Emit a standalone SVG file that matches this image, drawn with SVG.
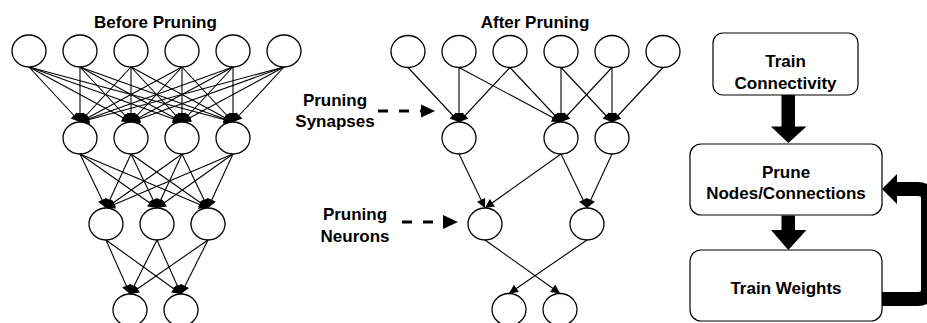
<svg xmlns="http://www.w3.org/2000/svg" width="927" height="323" viewBox="0 0 927 323">
  <style>
    .node { fill: #ffffff; stroke: #000000; stroke-width: 1.3; }
    .edge { stroke: #000000; stroke-width: 1.1; fill: none; marker-end: url(#ah); }
    .lbl { font-family: "Liberation Sans", Arial, sans-serif; font-weight: bold; font-size: 17px; fill: #000000; text-anchor: middle; }
    .box { fill: #ffffff; stroke: #000000; stroke-width: 1.2; }
    .dash { stroke: #000000; stroke-width: 3; stroke-dasharray: 10 11; fill: none; }
  </style>
  <defs>
    <marker id="ah" viewBox="0 0 10 10" refX="10" refY="5" markerWidth="11" markerHeight="9" markerUnits="userSpaceOnUse" orient="auto">
      <path d="M0,0 L10,5 L0,10 z" fill="#000000"/>
    </marker>
    <ellipse id="n" cx="0" cy="0" rx="17" ry="16" class="node"/>
  </defs>

  <rect width="927" height="323" fill="#ffffff"/>

  <!-- Titles -->
  <text class="lbl" x="155.5" y="28">Before Pruning</text>
  <text class="lbl" x="535" y="28">After Pruning</text>

  <!-- Connectors: dense network (before pruning) -->
  <g id="connectors-before">
    <line class="edge" x1="29" y1="67" x2="80" y2="122"/>
    <line class="edge" x1="29" y1="67" x2="131" y2="122"/>
    <line class="edge" x1="29" y1="67" x2="182" y2="122"/>
    <line class="edge" x1="29" y1="67" x2="233" y2="122"/>
    <line class="edge" x1="80" y1="67" x2="80" y2="122"/>
    <line class="edge" x1="80" y1="67" x2="131" y2="122"/>
    <line class="edge" x1="80" y1="67" x2="182" y2="122"/>
    <line class="edge" x1="80" y1="67" x2="233" y2="122"/>
    <line class="edge" x1="131" y1="67" x2="80" y2="122"/>
    <line class="edge" x1="131" y1="67" x2="131" y2="122"/>
    <line class="edge" x1="131" y1="67" x2="182" y2="122"/>
    <line class="edge" x1="131" y1="67" x2="233" y2="122"/>
    <line class="edge" x1="182" y1="67" x2="80" y2="122"/>
    <line class="edge" x1="182" y1="67" x2="131" y2="122"/>
    <line class="edge" x1="182" y1="67" x2="182" y2="122"/>
    <line class="edge" x1="182" y1="67" x2="233" y2="122"/>
    <line class="edge" x1="233" y1="67" x2="80" y2="122"/>
    <line class="edge" x1="233" y1="67" x2="131" y2="122"/>
    <line class="edge" x1="233" y1="67" x2="182" y2="122"/>
    <line class="edge" x1="233" y1="67" x2="233" y2="122"/>
    <line class="edge" x1="284" y1="67" x2="80" y2="122"/>
    <line class="edge" x1="284" y1="67" x2="131" y2="122"/>
    <line class="edge" x1="284" y1="67" x2="182" y2="122"/>
    <line class="edge" x1="284" y1="67" x2="233" y2="122"/>

    <line class="edge" x1="80" y1="154" x2="106" y2="208"/>
    <line class="edge" x1="80" y1="154" x2="157" y2="208"/>
    <line class="edge" x1="80" y1="154" x2="208" y2="208"/>
    <line class="edge" x1="131" y1="154" x2="106" y2="208"/>
    <line class="edge" x1="131" y1="154" x2="157" y2="208"/>
    <line class="edge" x1="131" y1="154" x2="208" y2="208"/>
    <line class="edge" x1="182" y1="154" x2="106" y2="208"/>
    <line class="edge" x1="182" y1="154" x2="157" y2="208"/>
    <line class="edge" x1="182" y1="154" x2="208" y2="208"/>
    <line class="edge" x1="233" y1="154" x2="106" y2="208"/>
    <line class="edge" x1="233" y1="154" x2="157" y2="208"/>
    <line class="edge" x1="233" y1="154" x2="208" y2="208"/>

    <line class="edge" x1="106" y1="240" x2="130" y2="294"/>
    <line class="edge" x1="106" y1="240" x2="181" y2="294"/>
    <line class="edge" x1="157" y1="240" x2="130" y2="294"/>
    <line class="edge" x1="157" y1="240" x2="181" y2="294"/>
    <line class="edge" x1="208" y1="240" x2="130" y2="294"/>
    <line class="edge" x1="208" y1="240" x2="181" y2="294"/>
  </g>

  <!-- Connectors: sparse network (after pruning) -->
  <g id="connectors-after">
    <line class="edge" x1="408" y1="67.5" x2="459" y2="122"/>
    <line class="edge" x1="459" y1="67.5" x2="459" y2="122"/>
    <line class="edge" x1="459" y1="67.5" x2="561" y2="122"/>
    <line class="edge" x1="510" y1="67.5" x2="459" y2="122"/>
    <line class="edge" x1="510" y1="67.5" x2="561" y2="122"/>
    <line class="edge" x1="561" y1="67.5" x2="561" y2="122"/>
    <line class="edge" x1="561" y1="67.5" x2="612" y2="122"/>
    <line class="edge" x1="612" y1="67.5" x2="561" y2="122"/>
    <line class="edge" x1="612" y1="67.5" x2="612" y2="122"/>
    <line class="edge" x1="663" y1="67.5" x2="612" y2="122"/>

    <line class="edge" x1="459" y1="154" x2="485" y2="208"/>
    <line class="edge" x1="561" y1="154" x2="485" y2="208"/>
    <line class="edge" x1="561" y1="154" x2="587" y2="208"/>
    <line class="edge" x1="612" y1="154" x2="587" y2="208"/>

    <line class="edge" x1="485" y1="240" x2="560" y2="293.5"/>
    <line class="edge" x1="587" y1="240" x2="509" y2="293.5"/>
  </g>

  <!-- Nodes: before pruning -->
  <g id="before-in-1"><use href="#n" x="29" y="51"/></g>
  <g id="before-in-2"><use href="#n" x="80" y="51"/></g>
  <g id="before-in-3"><use href="#n" x="131" y="51"/></g>
  <g id="before-in-4"><use href="#n" x="182" y="51"/></g>
  <g id="before-in-5"><use href="#n" x="233" y="51"/></g>
  <g id="before-in-6"><use href="#n" x="284" y="51"/></g>
  <g id="before-h1-1"><use href="#n" x="80" y="138"/></g>
  <g id="before-h1-2"><use href="#n" x="131" y="138"/></g>
  <g id="before-h1-3"><use href="#n" x="182" y="138"/></g>
  <g id="before-h1-4"><use href="#n" x="233" y="138"/></g>
  <g id="before-h2-1"><use href="#n" x="106" y="224"/></g>
  <g id="before-h2-2"><use href="#n" x="157" y="224"/></g>
  <g id="before-h2-3"><use href="#n" x="208" y="224"/></g>
  <g id="before-out-1"><use href="#n" x="130" y="310"/></g>
  <g id="before-out-2"><use href="#n" x="181" y="310"/></g>

  <!-- Nodes: after pruning -->
  <g id="after-in-1"><use href="#n" x="408" y="51.5"/></g>
  <g id="after-in-2"><use href="#n" x="459" y="51.5"/></g>
  <g id="after-in-3"><use href="#n" x="510" y="51.5"/></g>
  <g id="after-in-4"><use href="#n" x="561" y="51.5"/></g>
  <g id="after-in-5"><use href="#n" x="612" y="51.5"/></g>
  <g id="after-in-6"><use href="#n" x="663" y="51.5"/></g>
  <g id="after-h1-1"><use href="#n" x="459" y="138"/></g>
  <g id="after-h1-2"><use href="#n" x="561" y="138"/></g>
  <g id="after-h1-3"><use href="#n" x="612" y="138"/></g>
  <g id="after-h2-1"><use href="#n" x="485" y="224"/></g>
  <g id="after-h2-2"><use href="#n" x="587" y="224"/></g>
  <g id="after-out-1"><use href="#n" x="509" y="309.5"/></g>
  <g id="after-out-2"><use href="#n" x="560" y="309.5"/></g>

  <!-- Callouts -->
  <g id="callout-synapses">
    <text class="lbl" x="335" y="105.5">Pruning</text>
    <text class="lbl" x="335" y="127">Synapses</text>
    <line class="dash" x1="378" y1="111" x2="421" y2="111"/>
    <polygon points="421,104.5 435,111 421,117.5" fill="#000000"/>
  </g>
  <g id="callout-neurons">
    <text class="lbl" x="355" y="219.5">Pruning</text>
    <text class="lbl" x="355" y="242">Neurons</text>
    <line class="dash" x1="402" y1="222" x2="443" y2="222"/>
    <polygon points="443,215 458,222 443,229" fill="#000000"/>
  </g>

  <!-- Flowchart -->
  <g id="step-train-connectivity">
    <rect class="box" x="713" y="33" width="145" height="62" rx="10"/>
    <text class="lbl" x="785.5" y="67">Train</text>
    <text class="lbl" x="785.5" y="89">Connectivity</text>
  </g>
  <g id="step-prune">
    <rect class="box" x="690" y="144" width="192" height="71" rx="11"/>
    <text class="lbl" x="786" y="177.5">Prune</text>
    <text class="lbl" x="786" y="199">Nodes/Connections</text>
  </g>
  <g id="step-train-weights">
    <rect class="box" x="690" y="250" width="192" height="71" rx="11"/>
    <text class="lbl" x="786" y="294">Train Weights</text>
  </g>

  <g id="flow-connectors" fill="#000000">
    <polygon points="781.5,95 795,95 795,126.5 806.5,126.5 788.3,143 771,126.5 781.5,126.5"/>
    <polygon points="781.5,215.5 795,215.5 795,230 806.5,230 788.3,250 771,230 781.5,230"/>
    <path d="M882,299 H918 Q928,299 928,289 V199 Q928,189 918,189 H896" fill="none" stroke="#000000" stroke-width="14"/>
    <polygon points="882,189 897,174 897,204"/>
  </g>
</svg>
